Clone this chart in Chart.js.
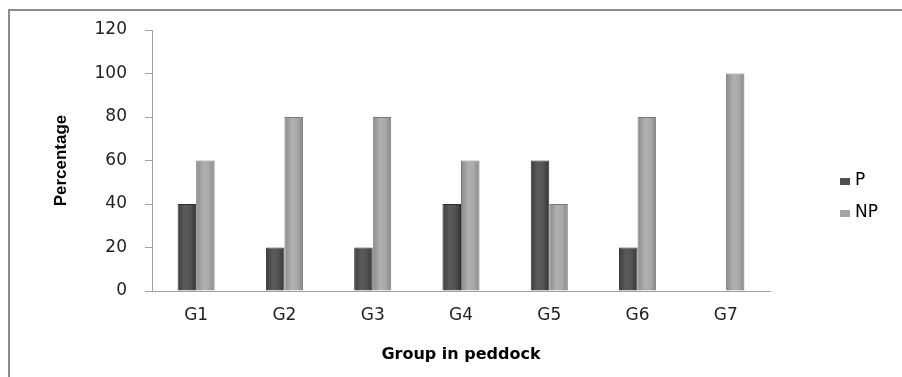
<!DOCTYPE html>
<html>
<head>
<meta charset="utf-8">
<script src="https://cdn.jsdelivr.net/npm/chart.js@4/dist/chart.umd.min.js"></script>
<style>
html,body{margin:0;padding:0;background:#fff;}
#wrap{width:902px;height:377px;position:relative;}
</style>
</head>
<body>
<div id="wrap"><canvas id="c" width="902" height="377"></canvas></div>
<script>
const categories = ["G1","G2","G3","G4","G5","G6","G7"];
const seriesP = [40,20,20,40,60,20,0];
const seriesNP = [60,80,80,60,40,80,100];
const seriesNames = ["P","NP"];
const yTicks = [0,20,40,60,80,100,120];

function barGradient(ctx, dark) {
  const chart = ctx.chart;
  const area = chart.chartArea;
  if (!area) return dark ? '#4d4d4d' : '#9c9c9c';
  const xs = chart.scales.x;
  const meta = chart.getDatasetMeta(ctx.datasetIndex);
  const el = meta.data[ctx.dataIndex];
  let x0, w;
  if (el && el.width) { x0 = el.x - el.width / 2; w = el.width; }
  else {
    const cw = (xs.right - xs.left) / categories.length;
    w = cw * 0.42 / 2;
    x0 = xs.getPixelForValue(ctx.dataIndex) - w + (ctx.datasetIndex * w);
  }
  const g = chart.ctx.createLinearGradient(x0, 0, x0 + w, 0);
  if (dark) {
    g.addColorStop(0, '#3a3a3a');
    g.addColorStop(0.35, '#5a5a5a');
    g.addColorStop(0.65, '#555555');
    g.addColorStop(1, '#353535');
  } else {
    g.addColorStop(0, '#8a8a8a');
    g.addColorStop(0.4, '#b0b0b0');
    g.addColorStop(0.7, '#a8a8a8');
    g.addColorStop(1, '#858585');
  }
  return g;
}

const framePlugin = {
  id: 'frame',
  beforeDraw(chart) {
    const c = chart.ctx;
    c.save();
    c.fillStyle = '#fff';
    c.fillRect(0, 0, chart.width, chart.height);
    c.strokeStyle = '#8c8c8c';
    c.lineWidth = 2;
    c.beginPath();
    c.moveTo(9, 377);
    c.lineTo(9, 10);
    c.lineTo(902, 10);
    c.stroke();
    c.restore();
  }
};

const legendPlugin = {
  id: 'customLegend',
  afterDraw(chart) {
    const c = chart.ctx;
    c.save();
    const ys = [181, 213];
    chart.data.datasets.forEach((ds, i) => {
      const y = ys[i];
      c.fillStyle = i === 0 ? '#4f4f4f' : '#a4a4a4';
      c.fillRect(840, y - 3, 10, 7);
      c.fillStyle = '#000';
      c.font = '17px "DejaVu Sans"';
      c.textBaseline = 'middle';
      c.textAlign = 'left';
      c.fillText(ds.label, 855, y);
    });
    c.restore();
  }
};

new Chart(document.getElementById('c'), {
  type: 'bar',
  data: {
    labels: categories,
    datasets: [
      { label: seriesNames[0], data: seriesP, backgroundColor: ctx => barGradient(ctx, true), borderColor: '#2e2e2e', borderWidth: 1, borderSkipped: 'bottom' },
      { label: seriesNames[1], data: seriesNP, backgroundColor: ctx => barGradient(ctx, false), borderColor: '#7a7a7a', borderWidth: 1, borderSkipped: 'bottom' }
    ]
  },
  options: {
    responsive: false,
    animation: false,
    devicePixelRatio: 1,
    categoryPercentage: 0.42,
    barPercentage: 1.0,
    layout: { padding: { left: 10, right: 132, top: 30, bottom: 0 } },
    plugins: { legend: { display: false }, tooltip: { enabled: false } },
    scales: {
      x: {
        offset: true,
        grid: { display: false, drawTicks: false },
        border: { display: true, color: '#a0a0a0', width: 1 },
        ticks: { color: '#222', font: { family: '"DejaVu Sans"', size: 17 }, padding: 14 },
        title: { display: true, text: 'Group in peddock', color: '#000', font: { family: '"DejaVu Sans"', size: 16, weight: 'bold' }, padding: { top: 10, bottom: 13 } },
        afterFit(s) { s.height = 86; }
      },
      y: {
        min: 0, max: 120,
        afterBuildTicks(s) { s.ticks = yTicks.map(v => ({ value: v })); },
        grid: { drawOnChartArea: false, drawTicks: true, tickLength: 7, color: '#a0a0a0' },
        border: { display: true, color: '#a0a0a0', width: 1 },
        ticks: { color: '#222', font: { family: '"DejaVu Sans"', size: 17 }, padding: 18 },
        title: { display: true, text: 'Percentage', color: '#000', font: { family: '"Liberation Sans Narrow", "Liberation Sans"', size: 17, weight: 'bold' }, padding: { top: 41, bottom: 0 } },
        afterFit(s) { s.width = 142; }
      }
    }
  },
  plugins: [framePlugin, legendPlugin]
});
</script>
</body>
</html>
